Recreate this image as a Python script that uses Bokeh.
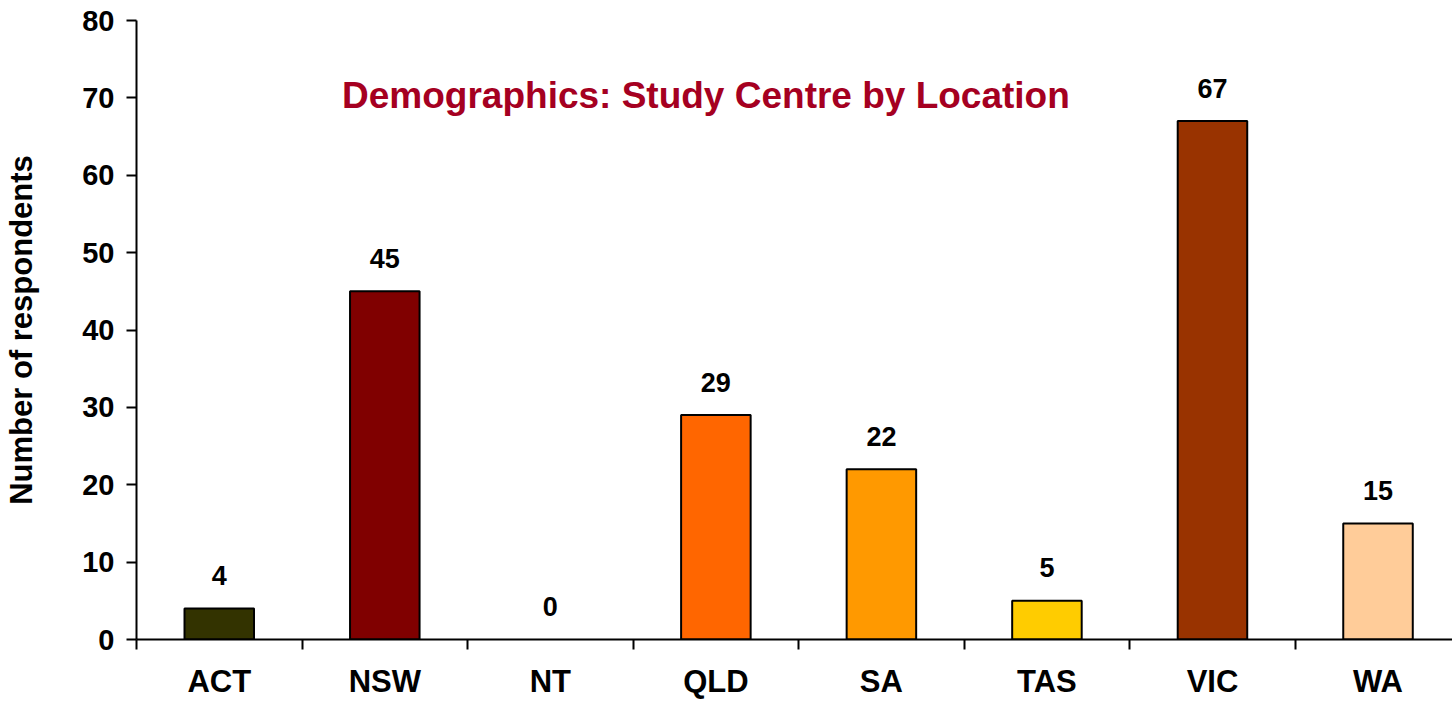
from bokeh.plotting import figure
from bokeh.models import Range1d, FixedTicker, Label, ColumnDataSource
from bokeh.core.properties import value
from bokeh.embed import file_html
from bokeh.resources import INLINE

categories = ["ACT", "NSW", "NT", "QLD", "SA", "TAS", "VIC", "WA"]
respondents = [4, 45, 0, 29, 22, 5, 67, 15]
bar_colors = ["#333300", "#800000", "#FFFFFF", "#FF6600", "#FF9900", "#FFCC00", "#993300", "#FFCC99"]
y_ticks = [0, 10, 20, 30, 40, 50, 60, 70, 80]
title_text = "Demographics: Study Centre by Location"
y_label = "Number of respondents"

FONT = "Liberation Sans"
xpos = [i + 0.5 for i in range(len(categories))]

src = ColumnDataSource(dict(
    x=xpos, top=respondents, color=bar_colors,
    label=[str(v) for v in respondents],
    line=["black" if v > 0 else None for v in respondents],
))

p = figure(width=1452, height=702, output_backend="svg", toolbar_location=None,
           x_range=Range1d(0, 7.95), y_range=Range1d(0, 80),
           min_border_left=136, min_border_top=20, min_border_bottom=63,
           min_border_right=0)
p.outline_line_color = None
p.grid.visible = False
p.background_fill_color = "white"
p.border_fill_color = "white"

p.vbar(x="x", top="top", width=0.42, bottom=0, source=src,
       fill_color="color", line_color="line", line_width=2)

p.text(x="x", y="top", text="label", source=src,
       text_align="center", text_baseline="middle", y_offset=-33,
       text_font=value(FONT), text_font_style="bold", text_font_size="27px",
       text_color="black")

# y axis
ya = p.yaxis[0]
ya.ticker = FixedTicker(ticks=y_ticks)
ya.minor_tick_line_color = None
ya.major_tick_in = 0
ya.major_tick_out = 10
ya.major_tick_line_width = 2
ya.axis_line_width = 2
ya.major_label_text_font = FONT
ya.major_label_text_font_style = "bold"
ya.major_label_text_font_size = "29px"
ya.major_label_text_color = "black"
ya.major_label_standoff = 12
ya.axis_label = y_label
ya.axis_label_text_font = FONT
ya.axis_label_text_font_style = "bold"
ya.axis_label_text_font_size = "31px"
ya.axis_label_text_color = "black"
ya.axis_label_standoff = 40

# x axis
xa = p.xaxis[0]
xa.ticker = FixedTicker(ticks=xpos, minor_ticks=list(range(len(categories) + 1)))
xa.major_label_overrides = {x: c for x, c in zip(xpos, categories)}
xa.major_tick_line_color = None
xa.minor_tick_in = 0
xa.minor_tick_out = 10
xa.minor_tick_line_width = 2
xa.minor_tick_line_color = "black"
xa.axis_line_width = 2
xa.major_label_text_font = FONT
xa.major_label_text_font_style = "bold"
xa.major_label_text_font_size = "31px"
xa.major_label_text_color = "black"
xa.major_label_standoff = 14

title = Label(x=3.44, y=70.3, text=title_text, text_align="center",
              text_baseline="middle", text_font=FONT, text_font_style="bold",
              text_font_size="37px", text_color="#A50021")
p.add_layout(title)

open("out.html", "w").write(file_html(p, INLINE))
